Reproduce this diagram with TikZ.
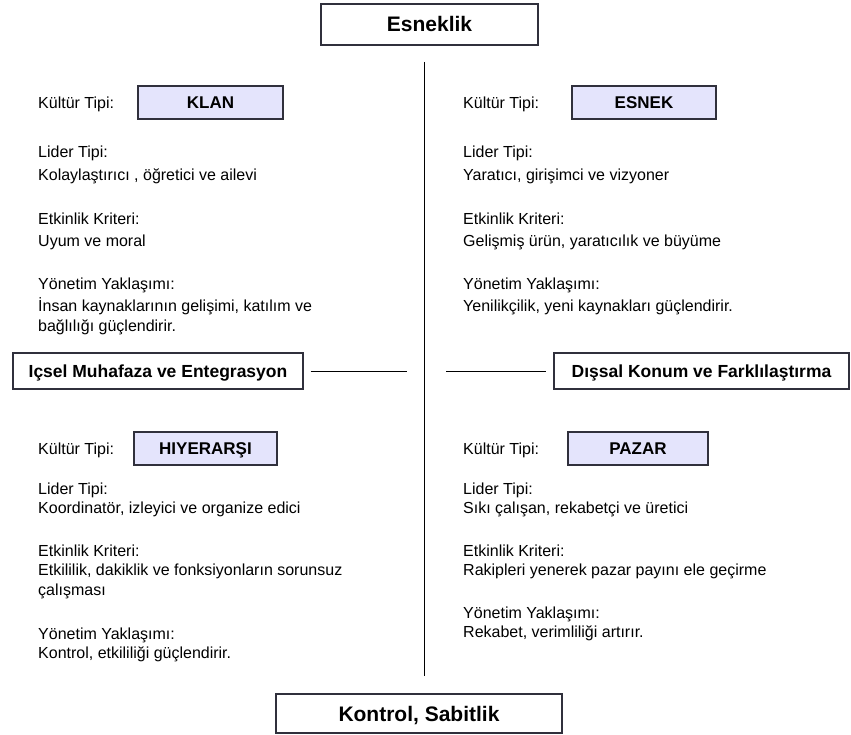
\documentclass[tikz,border=0pt]{standalone}
\usepackage{fontspec}
\setmainfont{Liberation Sans}
\definecolor{edge}{HTML}{30303C}
\definecolor{lav}{HTML}{E4E4FC}
\begin{document}
\begin{tikzpicture}[x=1pt,y=-1pt,
  body/.style={anchor=west,inner sep=0pt,text height=11.5pt,text depth=0pt,font=\fontsize{16}{19}\selectfont},
  boxtext/.style={inner sep=0pt,text depth=0pt},
  axisbox/.style={boxtext,text height=12.5pt,draw=edge,line width=1.4pt,fill=white,font=\bfseries\fontsize{17.5}{19}\selectfont},
  bigbox/.style={boxtext,text height=15pt,draw=edge,line width=1.4pt,fill=white,font=\bfseries\fontsize{21}{24}\selectfont},
  typebox/.style={boxtext,text height=12.2pt,draw=edge,line width=1.4pt,fill=lav,font=\bfseries\fontsize{17}{19}\selectfont},
  axisline/.style={draw=black,line width=1pt}]
\useasboundingbox (0,0) rectangle (851,735);

% axes
\coordinate (vtop) at (424,62);
\coordinate (vbot) at (424,676);
\draw[axisline] (vtop) -- (vbot);

\node[bigbox,minimum width=217pt,minimum height=41pt] (flex) at (429.5,24.5) {Esneklik};
\node[bigbox,minimum width=286pt,minimum height=39pt] (ctrl) at (419,713.5) {Kontrol, Sabitlik};

\node[axisbox,minimum width=290pt,minimum height=36pt] (inner) at (158,371) {Içsel Muhafaza ve Entegrasyon};
\node[axisbox,minimum width=295pt,minimum height=36pt] (outer) at (701.5,371) {Dışsal Konum ve Farklılaştırma};
\coordinate (lend) at (407,371);
\coordinate (rend) at (446,371);
\draw[axisline] ([xshift=7pt]inner.east) -- (lend);
\draw[axisline] (rend) -- ([xshift=-7pt]outer.west);

% upper left: clan
\node[body] (kt1) at (38,103) {Kültür Tipi:};
\node[typebox,minimum width=145pt,minimum height=33pt] (klan) at (210.5,102.5) {KLAN};
\node[body] (l1a) at (38,152) {Lider Tipi:};
\node[body] (l1b) at (38,175) {Kolaylaştırıcı , öğretici ve ailevi};
\node[body] (e1a) at (38,219) {Etkinlik Kriteri:};
\node[body] (e1b) at (38,241) {Uyum ve moral};
\node[body] (y1a) at (38,284) {Yönetim Yaklaşımı:};
\node[body] (y1b) at (38,306) {İnsan kaynaklarının gelişimi, katılım ve};
\node[body] (y1c) at (38,326) {bağlılığı güçlendirir.};

% upper right: adhocracy
\node[body] (kt2) at (463,103) {Kültür Tipi:};
\node[typebox,minimum width=144pt,minimum height=33pt] (esnek) at (644,102.5) {ESNEK};
\node[body] (l2a) at (463,152) {Lider Tipi:};
\node[body] (l2b) at (463,175) {Yaratıcı, girişimci ve vizyoner};
\node[body] (e2a) at (463,219) {Etkinlik Kriteri:};
\node[body] (e2b) at (463,241) {Gelişmiş ürün, yaratıcılık ve büyüme};
\node[body] (y2a) at (463,284) {Yönetim Yaklaşımı:};
\node[body] (y2b) at (463,306) {Yenilikçilik, yeni kaynakları güçlendirir.};

% lower left: hierarchy
\node[body] (kt3) at (38,449) {Kültür Tipi:};
\node[typebox,minimum width=143pt,minimum height=33pt] (hiy) at (205.5,448.5) {HIYERARŞI};
\node[body] (l3a) at (38,489) {Lider Tipi:};
\node[body] (l3b) at (38,508) {Koordinatör, izleyici ve organize edici};
\node[body] (e3a) at (38,551) {Etkinlik Kriteri:};
\node[body] (e3b) at (38,570) {Etkililik, dakiklik ve fonksiyonların sorunsuz};
\node[body] (e3c) at (38,590) {çalışması};
\node[body] (y3a) at (38,634) {Yönetim Yaklaşımı:};
\node[body] (y3b) at (38,653) {Kontrol, etkililiği güçlendirir.};

% lower right: market
\node[body] (kt4) at (463,449) {Kültür Tipi:};
\node[typebox,minimum width=140pt,minimum height=33pt] (pazar) at (638,448.5) {PAZAR};
\node[body] (l4a) at (463,489) {Lider Tipi:};
\node[body] (l4b) at (463,508) {Sıkı çalışan, rekabetçi ve üretici};
\node[body] (e4a) at (463,551) {Etkinlik Kriteri:};
\node[body] (e4b) at (463,570) {Rakipleri yenerek pazar payını ele geçirme};
\node[body] (y4a) at (463,613) {Yönetim Yaklaşımı:};
\node[body] (y4b) at (463,632) {Rekabet, verimliliği artırır.};
\end{tikzpicture}
\end{document}
